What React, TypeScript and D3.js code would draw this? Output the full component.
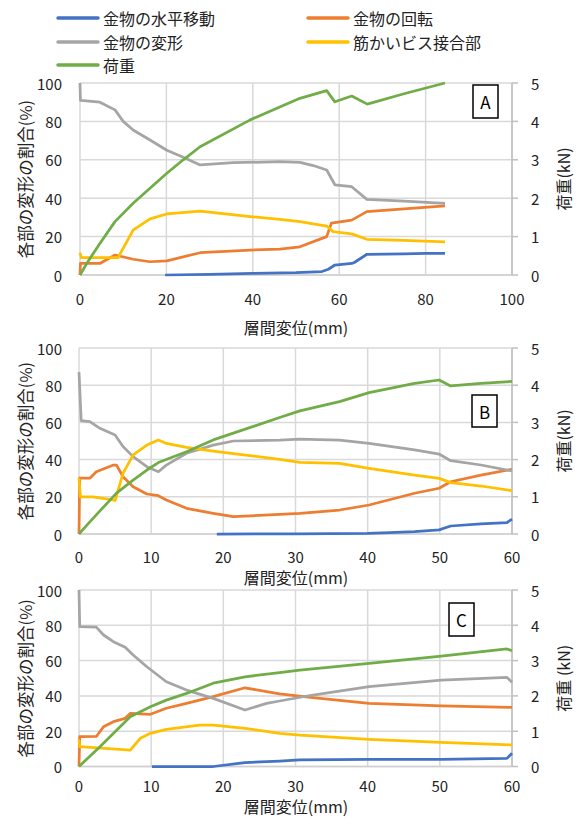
import React from "react";
import * as d3 from "d3";

type P = [number, number];

const SERIES_NAMES = ["金物の水平移動", "金物の回転", "金物の変形", "筋かいビス接合部", "荷重"];
const SERIES_COLORS = ["#4472C4", "#ED7D31", "#A5A5A5", "#FFC000", "#70AD47"];
const PCT_TICKS = [0, 20, 40, 60, 80, 100];
const KN_TICKS = [0, 1, 2, 3, 4, 5];
const A_X_TICKS = [0, 20, 40, 60, 80, 100];
const BC_X_TICKS = [0, 10, 20, 30, 40, 50, 60];

// ---- Panel A ----
const A_HORIZ: P[] = [[19.7, 0], [30, 0.3], [40, 0.8], [50, 1.2], [56, 1.8], [57.5, 3], [59, 5.2], [62.9, 6], [63.5, 6.5], [66.4, 10.8], [75, 11], [80, 11.3], [84.5, 11.3]];
const A_ROT: P[] = [[0, 0], [0.1, 6], [4.6, 6], [8.1, 10.4], [12.3, 8.2], [16.2, 6.9], [20.1, 7.4], [27.8, 11.6], [39.4, 13], [46.3, 13.5], [50.9, 14.7], [57.1, 20], [58.2, 27], [62.9, 28.6], [66.4, 33], [75, 34.5], [84.5, 36]];
const A_DEF: P[] = [[0, 100], [0.1, 91], [4.6, 90], [8.1, 86], [10, 80], [12.3, 75.5], [16.2, 70.3], [20.1, 65], [23.9, 61.3], [27.8, 57.3], [35.5, 58.5], [46.3, 59], [50.9, 58.7], [54, 57], [57.1, 54.7], [59, 47], [62.9, 46], [66.4, 39.4], [75, 38.5], [84.5, 37.3]];
const A_BRACE: P[] = [[0, 11.6], [0.3, 9], [8.8, 9], [12.3, 23.4], [16.2, 29.2], [20.1, 31.8], [27.8, 33.3], [39.4, 30.4], [46.3, 29], [50.9, 27.8], [57.1, 25.5], [58.6, 22.6], [62.9, 21.4], [66.4, 18.6], [75, 18], [84.5, 17.3]];
const A_LOAD: P[] = [[0, 0], [2, 0.38], [4.6, 0.82], [8.1, 1.39], [12.3, 1.87], [16.2, 2.26], [20.1, 2.65], [23.9, 3.0], [27.8, 3.34], [39.4, 4.04], [50.9, 4.6], [57.1, 4.8], [59, 4.51], [62.9, 4.66], [66.5, 4.45], [75, 4.72], [84.5, 5.0]];

// ---- Panel B ----
const B_HORIZ: P[] = [[19.1, 0], [30, 0.1], [40, 0.3], [43, 0.8], [46.5, 1.3], [49.9, 2.2], [51.5, 4.3], [55.7, 5.4], [59.3, 6.1], [60, 8]];
const B_ROT: P[] = [[0, 0], [0.1, 30], [1.5, 30], [2.4, 33.5], [4.7, 37], [5.2, 37], [6.1, 30.8], [7.5, 25.4], [9.4, 21.5], [11, 20.6], [12.1, 18.3], [14.9, 13.8], [18.6, 11.1], [21.4, 9.3], [27.8, 10.6], [30.6, 11.1], [36.1, 12.9], [40.2, 15.6], [46.5, 21.9], [49.9, 24.6], [51.5, 28.1], [55.7, 31.7], [60, 34.8]];
const B_DEF: P[] = [[0, 87], [0.3, 61], [1.5, 60.4], [2.9, 56.8], [5, 53.2], [6.1, 47], [7.5, 41.6], [9.4, 36.2], [11, 33.5], [12.1, 37], [14.9, 43.4], [18.6, 47.8], [21.4, 50], [27.8, 50.5], [30.6, 51], [36.1, 50.5], [40.2, 48.7], [46.5, 45.2], [49.9, 43], [51.5, 39.4], [55.7, 37.1], [60, 33.9]];
const B_BRACE: P[] = [[0, 30], [0.2, 20], [1.9, 20], [4.7, 18.3], [5, 18], [6.1, 32.6], [7.5, 42.5], [9.4, 47.8], [11, 50.5], [12.1, 48.7], [14.9, 46.6], [18.6, 44.6], [27.8, 40.1], [30.6, 38.5], [36.1, 38], [40.2, 35.3], [46.5, 31.7], [49.9, 29.9], [51.5, 27.6], [55.7, 25.8], [60, 23.3]];
const B_LOAD: P[] = [[0, 0], [1, 0.22], [2.9, 0.62], [5.2, 1.1], [7.5, 1.45], [9.4, 1.72], [11, 1.92], [14.9, 2.21], [18.6, 2.53], [27.8, 3.13], [30.6, 3.31], [36.1, 3.56], [40.2, 3.8], [46.5, 4.05], [49.9, 4.14], [51.5, 3.98], [55.7, 4.05], [60, 4.1]];

// ---- Panel C ----
const C_HORIZ: P[] = [[10.1, 0], [18.6, 0], [23, 2.2], [27.8, 3.1], [30.6, 3.7], [40.2, 4], [50.2, 4], [59.3, 4.6], [60, 7.5]];
const C_ROT: P[] = [[0, 0], [0.1, 16.9], [2.4, 17], [3.4, 22.5], [4.76, 25.4], [6.4, 27.3], [7.1, 30.1], [9.9, 29.6], [12.1, 33], [14.9, 35.8], [18.6, 39.6], [23, 44.6], [26, 42.4], [27.8, 41.1], [32.4, 39], [40.2, 35.8], [50.2, 34.3], [60, 33.5]];
const C_DEF: P[] = [[0, 100], [0.1, 79.2], [2.4, 79], [3.4, 74.5], [4.76, 70.7], [6.4, 67.5], [7.5, 63.2], [9.4, 56.5], [12.1, 48], [14.9, 43.3], [18.6, 38.6], [23, 32], [26, 35.8], [27.8, 37.1], [32.4, 40.5], [40.2, 45.2], [50.2, 49], [59.3, 50.5], [60, 47.7]];
const C_BRACE: P[] = [[0, 15.4], [0.1, 11.2], [7.1, 9.3], [8.5, 16], [9.9, 18.8], [12.1, 21], [16.7, 23.5], [18.6, 23.5], [23, 21.6], [27.8, 18.8], [30.6, 17.8], [40.2, 15.4], [50.2, 13.7], [60, 12.2]];
const C_LOAD: P[] = [[0, 0], [2.9, 0.56], [7.1, 1.41], [9.9, 1.69], [12.1, 1.88], [14.9, 2.07], [18.6, 2.36], [23, 2.54], [27.8, 2.66], [30.6, 2.73], [40.2, 2.92], [50.2, 3.13], [59.3, 3.33], [60, 3.28]];

const FONT = "'Noto Sans CJK JP', 'Noto Sans', sans-serif";

interface PanelCfg {
  label: string;
  x0: number; x1: number; y0: number; y1: number;
  xMax: number; xTicks: number[];
  tickY: number; titleY: number;
  box: [number, number, number, number];
  rightTitle: string;
  pct: P[][];
  load: P[];
}

const PANELS: PanelCfg[] = [
  { label: "A", x0: 80, x1: 512, y0: 83, y1: 275, xMax: 100, xTicks: A_X_TICKS, tickY: 298.5, titleY: 327, box: [473, 85, 25, 33], rightTitle: "荷重(kN)", pct: [A_HORIZ, A_ROT, A_DEF, A_BRACE], load: A_LOAD },
  { label: "B", x0: 79, x1: 512, y0: 348, y1: 534, xMax: 60, xTicks: BC_X_TICKS, tickY: 556, titleY: 577, box: [472, 395, 25, 32], rightTitle: "荷重(kN)", pct: [B_HORIZ, B_ROT, B_DEF, B_BRACE], load: B_LOAD },
  { label: "C", x0: 79, x1: 512, y0: 590, y1: 766.5, xMax: 60, xTicks: BC_X_TICKS, tickY: 785, titleY: 806, box: [449, 603, 25, 33], rightTitle: "荷重 (kN)", pct: [C_HORIZ, C_ROT, C_DEF, C_BRACE], load: C_LOAD },
];

function Panel({ cfg }: { cfg: PanelCfg }) {
  const x = d3.scaleLinear().domain([0, cfg.xMax]).range([cfg.x0, cfg.x1]);
  const yL = d3.scaleLinear().domain([0, 100]).range([cfg.y1, cfg.y0]);
  const yR = d3.scaleLinear().domain([0, 5]).range([cfg.y1, cfg.y0]);
  const lineL = d3.line<P>().x((d) => x(d[0])).y((d) => yL(d[1]));
  const lineR = d3.line<P>().x((d) => x(d[0])).y((d) => yR(d[1]));
  const cy = (cfg.y0 + cfg.y1) / 2;
  return (
    <g>
      {PCT_TICKS.map((t) => (
        <line key={"h" + t} x1={cfg.x0} x2={cfg.x1} y1={yL(t)} y2={yL(t)} stroke="#d9d9d9" strokeWidth={1.5} />
      ))}
      {cfg.xTicks.map((t) => (
        <line key={"v" + t} x1={x(t)} x2={x(t)} y1={cfg.y0} y2={cfg.y1} stroke="#d9d9d9" strokeWidth={1.5} />
      ))}
      <line x1={cfg.x0} x2={cfg.x1} y1={cfg.y1} y2={cfg.y1} stroke="#d0d0d0" strokeWidth={1.5} />
      <line x1={cfg.x1} x2={cfg.x1} y1={cfg.y0} y2={cfg.y1} stroke="#bfbfbf" strokeWidth={1.5} />
      {KN_TICKS.map((t) => (
        <line key={"rt" + t} x1={cfg.x1} x2={cfg.x1 + 6} y1={yR(t)} y2={yR(t)} stroke="#bfbfbf" strokeWidth={1.5} />
      ))}
      {PCT_TICKS.map((t) => (
        <text key={"lt" + t} x={62} y={yL(t)} textAnchor="end" dominantBaseline="central" fontSize={15} fontFamily={FONT} fill="#222">{t}</text>
      ))}
      {KN_TICKS.map((t) => (
        <text key={"rl" + t} x={531} y={yR(t)} textAnchor="start" dominantBaseline="central" fontSize={15} fontFamily={FONT} fill="#222">{t}</text>
      ))}
      {cfg.xTicks.map((t) => (
        <text key={"xt" + t} x={x(t)} y={cfg.tickY} textAnchor="middle" dominantBaseline="central" fontSize={15} fontFamily={FONT} fill="#222">{t}</text>
      ))}
      <text x={296} y={cfg.titleY} textAnchor="middle" dominantBaseline="central" fontSize={16} fontFamily={FONT} fill="#222">層間変位(mm)</text>
      <text transform={`translate(25,${cy}) rotate(-90)`} textAnchor="middle" dominantBaseline="central" fontSize={16.5} fontFamily={FONT} fill="#222">各部の変形の割合(%)</text>
      <text transform={`translate(563,${cy}) rotate(-90)`} textAnchor="middle" dominantBaseline="central" fontSize={16} fontFamily={FONT} fill="#222">{cfg.rightTitle}</text>
      {cfg.pct.map((s, i) => (
        <path key={"s" + i} d={lineL(s) || ""} fill="none" stroke={SERIES_COLORS[i]} strokeWidth={2.75} strokeLinejoin="round" />
      ))}
      <path d={lineR(cfg.load) || ""} fill="none" stroke={SERIES_COLORS[4]} strokeWidth={2.75} strokeLinejoin="round" />
      <rect x={cfg.box[0]} y={cfg.box[1]} width={cfg.box[2]} height={cfg.box[3]} fill="#fff" stroke="#000" strokeWidth={1.5} />
      <text x={cfg.box[0] + cfg.box[2] / 2} y={cfg.box[1] + cfg.box[3] / 2} textAnchor="middle" dominantBaseline="central" fontSize={17} fontFamily={FONT} fill="#000">{cfg.label}</text>
    </g>
  );
}

const LEGEND_POS: [number, number][] = [[58, 18], [308, 18], [58, 42], [308, 42], [58, 65]];
const LEGEND_ORDER = [0, 1, 2, 3, 4];

export default function App() {
  return (
    <svg width={577} height={819} style={{ display: "block", position: "absolute", left: 0, top: 0, background: "#fff" }}>
      <rect width={577} height={819} fill="#fff" />
      {LEGEND_ORDER.map((si, k) => {
        const [lx, ly] = LEGEND_POS[k];
        return (
          <g key={"lg" + si}>
            <line x1={lx} x2={lx + 40} y1={ly} y2={ly} stroke={SERIES_COLORS[si]} strokeWidth={3.5} strokeLinecap="round" />
            <text x={lx + 45} y={ly} dominantBaseline="central" fontSize={16} fontFamily={FONT} fill="#222">{SERIES_NAMES[si]}</text>
          </g>
        );
      })}
      {PANELS.map((p) => (
        <Panel key={p.label} cfg={p} />
      ))}
    </svg>
  );
}
